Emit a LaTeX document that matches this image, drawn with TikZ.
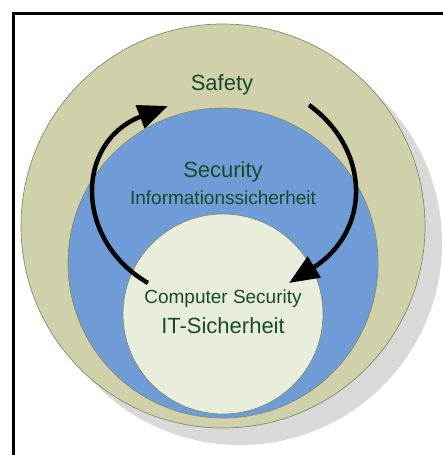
\documentclass[tikz,border=0pt]{standalone}
\usepackage{fontspec}
\setmainfont{Liberation Sans}
\usetikzlibrary{arrows.meta}
\definecolor{safetyfill}{HTML}{D0D1AB}
\definecolor{securityfill}{HTML}{6F9CD6}
\definecolor{itfill}{HTML}{E9EEDC}
\definecolor{ringedge}{HTML}{7E8F6C}
\definecolor{shadowgray}{HTML}{D9D9D9}
\definecolor{txtgreen}{HTML}{1B4A28}
\begin{document}
\begin{tikzpicture}[x=1pt,y=-1pt,
  ring/.style={draw=ringedge,line width=0.7pt},
  big/.style={text=txtgreen,anchor=base,font=\fontsize{22}{26}\selectfont},
  small/.style={text=txtgreen,anchor=base,font=\fontsize{19}{23}\selectfont},
  cyc/.style={line width=4.5pt,-{Triangle[length=30pt,width=24pt]}}]
\useasboundingbox (0,0) rectangle (443,455);

% frame, cut at the right and the bottom
\draw[line width=3pt] (13,456) -- (13,13) -- (444,13);

% rings
\fill[shadowgray] (240,243) circle (202);
\draw[ring,fill=safetyfill] (223,226) circle (202);
\draw[ring,fill=securityfill] (223,263) circle (155);
\draw[ring,fill=itfill] (223,314) circle (100);

% labels
\node[big] (safety) at (222,90) {Safety};
\node[big] (security) at (223,177) {Security};
\node[small] (infosec) at (223,204) {Informationssicherheit};
\node[small] (compsec) at (223,303.5) {Computer Security};
\node[big] (itsec) at (223,333) {IT-Sicherheit};

% cycle arrows
\coordinate (ltail) at (148,283);
\coordinate (lhead) at (168,106);
\coordinate (rtail) at (309,105);
\coordinate (rhead) at (289,283);
\draw[cyc] (ltail) .. controls (74,240) and (75,142) .. (lhead);
\draw[cyc] (rtail) .. controls (371,150) and (371,231) .. (rhead);
\end{tikzpicture}
\end{document}
